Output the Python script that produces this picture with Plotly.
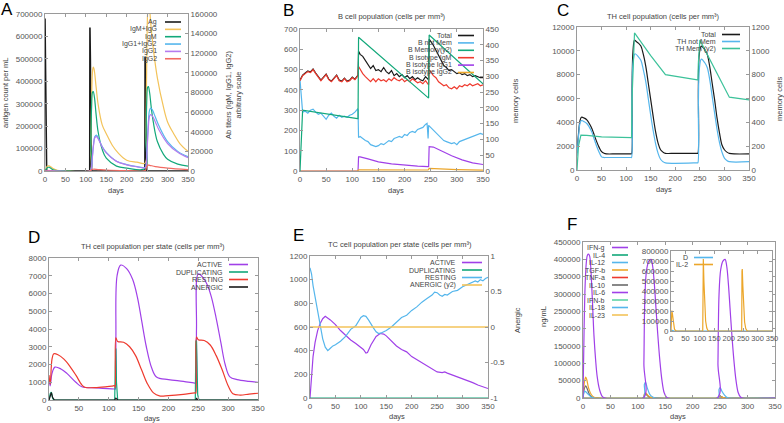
import plotly.graph_objects as go

W, H = 784, 423
DAY_TICKS = [0, 50, 100, 150, 200, 250, 300, 350]

# ---------------- Panel A ----------------
A_ag_days = [0, 0.5, 1, 2, 3, 4, 109.5, 110, 111, 112, 113, 114, 244.5, 245, 246, 247, 248, 249, 350]
A_ag = [680000, 600000, 450000, 200000, 50000, 0, 0, 640000, 500000, 250000, 80000, 0, 0, 510000, 400000, 200000, 60000, 0, 0]
A_igmg_days = [0, 3, 6, 10, 15, 20, 30, 40, 60, 110, 112, 114, 116, 118, 120, 125, 130, 140, 150, 165, 180, 200, 225, 245,
               247, 249, 251, 253, 256, 260, 265, 275, 290, 300, 315, 330, 350]
A_igmg = [0, 3000, 5000, 5200, 4000, 2500, 800, 200, 0, 0, 20000, 70000, 100000, 106000, 104000, 86000, 68000, 47000, 38000,
          26000, 18000, 11000, 9000, 8000, 40000, 110000, 160000, 175000, 165000, 145000, 125000, 95000, 65000, 50000, 38000, 28000, 20000]
A_igm_days = [0, 3, 6, 10, 15, 20, 30, 60, 110, 112, 114, 116, 118, 121, 125, 130, 140, 150, 175, 200, 245,
              247, 249, 251, 253, 256, 260, 265, 275, 290, 300, 325, 350]
A_igm = [0, 2000, 3500, 3800, 2500, 1200, 300, 0, 0, 25000, 65000, 80000, 81000, 75000, 58000, 40000, 22000, 13000, 5000, 3000, 2500,
         30000, 70000, 85000, 86000, 80000, 65000, 50000, 30000, 17000, 12000, 7000, 5000]
A_igg_days = [0, 10, 30, 110, 113, 116, 119, 122, 126, 130, 140, 150, 175, 200, 225, 245, 247, 250, 253, 256, 259, 263, 270, 280, 300, 325, 350]
A_igg12 = [0, 500, 0, 0, 2000, 15000, 28000, 35000, 36500, 34000, 25000, 19000, 10000, 6500, 4500, 3500, 5000, 25000, 50000, 62000, 64000, 62000, 55000, 45000, 30000, 20000, 14500]
A_igg1 = [0, 400, 0, 0, 1800, 14000, 27000, 34000, 35000, 33000, 24500, 18500, 9800, 6300, 4300, 3300, 4600, 22000, 45000, 56000, 57500, 56000, 50000, 41000, 28000, 19000, 13500]
A_igg2_days = [0, 110, 113, 118, 130, 150, 200, 245, 248, 252, 256, 270, 300, 350]
A_igg2 = [0, 0, 1000, 1800, 1500, 1000, 500, 400, 3000, 6000, 5800, 4500, 3000, 1500]

# ---------------- Panel B ----------------
B_days = [0, 5, 10, 15, 20, 25, 30, 35, 40, 45, 50, 55, 60, 65, 70, 75, 80, 85, 90, 95, 100, 105, 110, 111,
          112, 115, 120, 125, 130, 135, 140, 145, 150, 155, 160, 165, 170, 175, 180, 185, 190, 195, 200, 205, 210, 215, 220, 225,
          230, 235, 240, 245, 246, 247, 250, 255, 260, 265, 270, 275, 280, 285, 290, 295, 300, 305, 310, 315, 320, 325, 330, 335,
          340, 345, 350]
B_igm = [445, 470, 480, 490, 485, 500, 480, 460, 445, 460, 475, 450, 440, 455, 470, 445, 440, 455, 440, 445, 460, 450, 465, 470,
         515, 500, 480, 465, 450, 440, 455, 440, 455, 445, 450, 440, 455, 445, 460, 450, 445, 455, 440, 450, 440, 455, 445, 435,
         440, 430, 445, 430, 425, 500, 490, 470, 460, 440, 430, 420, 425, 410, 405, 415, 405, 420, 415, 425, 420, 430, 420, 425,
         430, 420, 425]
B_total = [448, 473, 483, 493, 488, 503, 483, 463, 448, 463, 478, 453, 443, 458, 473, 448, 443, 458, 443, 448, 463, 453, 468, 473,
           590, 575, 565, 545, 530, 505, 520, 495, 500, 490, 510, 490, 480, 495, 470, 480, 465, 475, 460, 470, 455, 465, 450, 460,
           450, 445, 465, 455, 450, 650, 640, 620, 595, 570, 540, 520, 510, 495, 500, 490, 480, 485, 475, 480, 470, 475, 465, 470,
           465, 460, 460]
B_nm_days = [0, 2, 4, 5, 10, 15, 20, 25, 30, 35, 40, 45, 50, 55, 60, 65, 70, 75, 80, 85, 90, 95, 100, 105, 110, 111,
             112, 115, 120, 125, 130, 135, 140, 145, 150, 155, 160, 165, 170, 175, 180, 185, 190, 195, 200, 205, 210, 215, 220, 225,
             230, 235, 240, 243, 244, 245, 246, 250, 255, 260, 265, 270, 275, 280, 285, 290, 295, 300, 305, 310, 315, 320, 325, 330,
             335, 340, 345, 350]
B_notmem = [450, 380, 300, 290, 295, 285, 300, 305, 290, 280, 285, 270, 255, 275, 285, 270, 260, 275, 265, 270, 265, 275, 280, 290, 305, 300,
            165, 170, 160, 150, 145, 130, 125, 120, 125, 135, 130, 140, 150, 145, 160, 165, 170, 165, 180, 175, 190, 195, 190, 205,
            210, 215, 230, 235, 200, 160, 225, 215, 200, 190, 175, 160, 150, 145, 140, 135, 140, 130, 145, 150, 155, 160, 165, 170,
            175, 180, 185, 180]
B_mem_days = [0, 3, 5, 110, 111, 112, 245, 246, 247, 350]
B_mem = [0, 150, 193, 166, 166, 424, 231, 231, 431, 276]
B_iso_days = [0, 110, 111, 112, 115, 130, 150, 175, 200, 225, 245, 246, 247, 255, 270, 290, 310, 330, 350]
B_igg1 = [0, 0, 0, 70, 70, 60, 45, 35, 28, 24, 22, 22, 120, 118, 100, 75, 55, 40, 32]
B_igg2_days = [0, 110, 112, 150, 245, 247, 270, 300, 350]
B_igg2 = [0, 0, 6, 6, 5, 13, 12, 7, 4]

# ---------------- Panel C ----------------
C_tot_days = [0, 3, 6, 9, 15, 20, 25, 30, 35, 40, 45, 50, 55, 60, 80, 110, 111, 112, 114, 117, 120, 125, 130, 135, 140, 145,
              150, 155, 160, 165, 170, 175, 180, 200, 245, 246, 247, 249, 253, 260, 265, 270, 275, 280, 285, 290, 295, 300, 305,
              310, 320, 350]
C_total = [1400, 3000, 4100, 4430, 4350, 4200, 3900, 3500, 2950, 2380, 1900, 1540, 1400, 1350, 1350, 1350, 1350, 7000, 10000, 10900,
           10800, 10650, 10400, 9700, 8700, 7300, 5900, 4500, 3200, 2250, 1700, 1500, 1400, 1400, 1400, 1400, 7000, 9800, 10400,
           10100, 9700, 8700, 7300, 5900, 4350, 3100, 2100, 1700, 1500, 1400, 1350, 1350]
C_nm_days = [0, 3, 6, 9, 15, 20, 25, 30, 35, 40, 45, 50, 55, 60, 110, 111, 112, 114, 118, 125, 130, 135, 140, 145, 150, 155,
             160, 165, 170, 175, 180, 245, 246, 247, 249, 253, 260, 265, 270, 275, 280, 285, 290, 295, 300, 305, 310, 350]
C_notmem = [1200, 2800, 3900, 4150, 4050, 3900, 3600, 3200, 2600, 2000, 1500, 1100, 1050, 1050, 1050, 1050, 6000, 9000, 9750,
            9500, 9200, 8400, 7400, 6000, 4600, 3300, 2200, 1400, 900, 700, 600, 600, 600, 5500, 8500, 9300, 9000, 8600, 7600, 6200,
            4800, 3400, 2300, 1500, 1000, 800, 700, 700]
C_mem_days = [0, 3, 8, 20, 50, 110, 111, 112, 117, 150, 180, 245, 246, 247, 250, 310, 350]
C_mem = [0, 200, 292, 290, 278, 272, 272, 600, 1150, 960, 800, 757, 757, 900, 1090, 611, 589]

# ---------------- Panel D ----------------
D_act_days = [0, 2, 5, 10, 20, 30, 45, 55, 80, 110, 111, 112, 114, 120, 130, 140, 148, 155, 163, 172, 180, 200, 225, 245, 246,
              247, 250, 258, 265, 272, 280, 288, 295, 303, 315, 335, 350]
D_active = [1200, 800, 1500, 1850, 1750, 1500, 1000, 750, 680, 620, 620, 3500, 7000, 7600, 7400, 6800, 5800, 4500, 3000, 1800,
            1300, 1150, 1050, 950, 950, 4000, 7100, 6900, 6500, 5800, 4600, 3200, 2000, 1300, 1150, 1050, 1000]
D_rest_days = [0, 2, 5, 8, 15, 25, 35, 45, 55, 60, 80, 105, 110, 111, 112, 115, 125, 135, 145, 155, 165, 175, 185, 200, 225,
               245, 246, 247, 250, 260, 270, 280, 290, 300, 308, 320, 335, 350]
D_resting = [1400, 900, 2300, 2600, 2550, 2300, 1900, 1400, 850, 720, 700, 780, 800, 700, 3500, 3300, 3250, 3000, 2500, 1700,
             900, 400, 230, 250, 320, 400, 380, 3550, 3400, 3350, 3100, 2500, 1700, 800, 350, 280, 330, 380]
D_dup_days = [0, 2, 4, 6, 8, 110, 111, 112, 113, 115, 245, 246, 247, 249, 251, 350]
D_dup = [0, 350, 450, 100, 0, 0, 1800, 2900, 1000, 0, 0, 3350, 3300, 300, 0, 0]
D_an_days = [0, 2, 4, 6, 9, 110, 112, 115, 246, 247, 250, 350]
D_anergic = [0, 250, 420, 150, 0, 0, 100, 0, 0, 80, 0, 0]

# ---------------- Panel E ----------------
E_act_days = [0, 3, 6, 10, 15, 20, 25, 30, 40, 50, 60, 70, 80, 90, 100, 105, 110, 113, 120, 130, 138, 145, 150, 160, 170, 180,
              190, 200, 210, 220, 230, 240, 250, 260, 265, 270, 280, 290, 300, 310, 320, 330, 340, 350]
E_active = [0, 200, 350, 470, 570, 630, 670, 690, 660, 620, 570, 530, 490, 460, 430, 410, 380, 385, 450, 520, 545, 540, 525,
            480, 440, 410, 390, 350, 325, 300, 275, 250, 220, 215, 220, 210, 195, 180, 160, 145, 130, 110, 95, 80]
E_rest_days = [0, 3, 6, 10, 15, 20, 25, 30, 35, 40, 45, 50, 60, 70, 80, 90, 95, 100, 105, 110, 115, 120, 125, 130, 135, 140,
               145, 150, 160, 170, 180, 190, 200, 210, 220, 230, 240, 245, 250, 255, 260, 265, 270, 280, 290, 300, 310, 320,
               325, 330, 335, 340, 345, 350]
E_resting = [1100, 1050, 950, 850, 720, 600, 500, 430, 400, 420, 440, 450, 480, 520, 580, 610, 650, 680, 695, 690, 660, 620,
             590, 560, 545, 550, 560, 570, 600, 640, 680, 700, 740, 770, 810, 840, 870, 895, 890, 870, 860, 875, 870, 900, 910,
             940, 960, 980, 990, 980, 1000, 990, 1010, 1020]
E_flat_days = [0, 350]
E_dup = [0, 0]
E_anergic = [0, 0]

# ---------------- Panel F ----------------
F_ifn_days = [0, 2, 4, 6, 8, 10, 12, 14, 16, 18, 20, 23, 26, 30, 35, 40, 110, 111, 113, 116, 120, 124, 127, 130, 133, 136,
              140, 144, 148, 152, 155, 245, 246, 248, 251, 255, 259, 262, 265, 268, 271, 275, 279, 283, 287, 290, 350]
F_ifng = [0, 200000, 330000, 390000, 412000, 415000, 410000, 380000, 320000, 250000, 180000, 110000, 60000, 25000, 5000, 0,
          0, 100000, 300000, 370000, 395000, 400000, 380000, 330000, 260000, 190000, 110000, 50000, 15000, 3000, 0,
          0, 100000, 300000, 370000, 395000, 400000, 380000, 330000, 260000, 190000, 110000, 50000, 15000, 3000, 0, 0]
F_il12_days = [0, 3, 5, 10, 15, 20, 110, 112, 114, 117, 122, 128, 132, 246, 248, 250, 253, 258, 263, 266, 350]
F_il12 = [0, 20000, 18000, 10000, 3000, 0, 0, 40000, 45000, 30000, 10000, 2000, 0, 0, 25000, 30000, 20000, 8000, 1000, 0, 0]
F_tgf_days = [0, 3, 5, 7, 10, 15, 20, 25, 110, 112, 114, 117, 122, 128, 246, 248, 250, 255, 260, 350]
F_tgfb = [0, 50000, 60000, 52000, 30000, 10000, 2000, 0, 0, 12000, 15000, 10000, 3000, 0, 0, 5000, 5000, 1500, 0, 0]
F_il10_days = [0, 3, 5, 8, 12, 17, 22, 110, 112, 114, 118, 124, 128, 246, 248, 250, 255, 260, 350]
F_il10 = [0, 30000, 35000, 25000, 10000, 2000, 0, 0, 10000, 12000, 6000, 1000, 0, 0, 4000, 5000, 1500, 0, 0]
F_flat_days = [0, 350]
F_zero = [0, 0]
F_il2_days = [0, 1, 3, 5, 8, 12, 16, 20, 110, 111, 112, 114, 117, 120, 124, 128, 132, 245, 246, 247, 249, 252, 255, 259, 263, 267, 350]
F_il2 = [0, 150000, 205000, 170000, 80000, 20000, 3000, 0, 0, 700000, 720000, 500000, 250000, 100000, 30000, 5000, 0,
         0, 600000, 620000, 450000, 220000, 90000, 25000, 4000, 0, 0]
F_d_days = [0, 3, 10, 350]
F_d = [0, 8000, 0, 0]

# ---------------- tick labels ----------------
A_y_ticks = [0, 100000, 200000, 300000, 400000, 500000, 600000, 700000]
A_y2_ticks = [0, 20000, 40000, 60000, 80000, 100000, 120000, 140000, 160000]
B_y_ticks = [0, 100, 200, 300, 400, 500, 600, 700]
B_y2_ticks = [0, 50, 100, 150, 200, 250, 300, 350, 400, 450]
C_y_ticks = [0, 2000, 4000, 6000, 8000, 10000, 12000]
C_y2_ticks = [0, 200, 400, 600, 800, 1000, 1200]
D_y_ticks = [0, 1000, 2000, 3000, 4000, 5000, 6000, 7000, 8000]
E_y_ticks = [0, 200, 400, 600, 800, 1000, 1200]
E_y2_ticks = [-1, -0.5, 0, 0.5, 1]
E_y2_labels = ["-1", "-0.5", "0", "0.5", "1"]
F_y_ticks = [0, 50000, 100000, 150000, 200000, 250000, 300000, 350000, 400000, 450000]
F_in_ticks = [0, 100000, 200000, 300000, 400000, 500000, 600000, 700000, 800000]

# ---------------- colours ----------------
BLACK = "#1a1a1a"
PURPLE = "#a040e8"
GREEN = "#12a87a"
BLUE = "#55b6ec"
ORANGE = "#eca62a"
RED = "#ee3a2e"
GRAY = "#6a6a6a"
LORANGE = "#f3c35a"
LGREEN = "#5fd3a6"
LPURPLE = "#b57bee"
SALMON = "#f26a62"
TEAL = "#3cc29a"

FONT = "Liberation Sans, Arial, sans-serif"
AXC = "#9a9a9a"
TXC = "#555555"

fig = go.Figure()


def tr(x, y, color, xa, ya, width=1.2, shape="linear"):
    fig.add_trace(go.Scatter(x=x, y=y, mode="lines", xaxis=xa, yaxis=ya, showlegend=False,
                             line=dict(color=color, width=width, shape=shape), hoverinfo="skip"))


# A
tr(A_ag_days, A_ag, BLACK, "x", "y", 1.6)
tr(A_igmg_days, A_igmg, LORANGE, "x", "y2", shape="spline")
tr(A_igm_days, A_igm, GREEN, "x", "y2", shape="spline")
tr(A_igg_days, A_igg12, BLUE, "x", "y2", shape="spline")
tr(A_igg_days, A_igg1, LPURPLE, "x", "y2", shape="spline")
tr(A_igg2_days, A_igg2, SALMON, "x", "y2", shape="spline")
# B
tr(B_days, B_total, BLACK, "x2", "y3")
tr(B_nm_days, B_notmem, BLUE, "x2", "y3")
tr(B_days, B_igm, RED, "x2", "y3")
tr(B_iso_days, B_igg1, PURPLE, "x2", "y3")
tr(B_igg2_days, B_igg2, ORANGE, "x2", "y3")
tr(B_mem_days, B_mem, GREEN, "x2", "y4")
# C
tr(C_tot_days, C_total, BLACK, "x3", "y5", shape="spline")
tr(C_nm_days, C_notmem, BLUE, "x3", "y5", shape="spline")
tr(C_mem_days, C_mem, TEAL, "x3", "y6")
# D
tr(D_act_days, D_active, PURPLE, "x4", "y7", shape="spline")
tr(D_dup_days, D_dup, GREEN, "x4", "y7")
tr(D_rest_days, D_resting, RED, "x4", "y7", shape="spline")
tr(D_an_days, D_anergic, BLACK, "x4", "y7")
# E
tr(E_act_days, E_active, PURPLE, "x5", "y8")
tr(E_flat_days, E_dup, GREEN, "x5", "y8")
tr(E_rest_days, E_resting, BLUE, "x5", "y8")
tr(E_flat_days, E_anergic, LORANGE, "x5", "y9", 1.4)
# F
for c in [GREEN, RED, PURPLE, LGREEN, BLUE, LORANGE]:
    tr(F_flat_days, F_zero, c, "x6", "y10")
tr(F_il10_days, F_il10, GRAY, "x6", "y10", shape="spline")
tr(F_tgf_days, F_tgfb, ORANGE, "x6", "y10", shape="spline")
tr(F_il12_days, F_il12, BLUE, "x6", "y10", shape="spline")
tr(F_ifn_days, F_ifng, PURPLE, "x6", "y10", shape="spline")
tr(F_d_days, F_d, BLUE, "x7", "y11")
tr(F_il2_days, F_il2, ORANGE, "x7", "y11")


def dom_x(a, b):
    return [a / W, b / W]


def dom_y(top, bot):
    return [1 - bot / H, 1 - top / H]


tickfont = dict(family=FONT, size=8, color=TXC)


def xax(d, anchor, mirror="ticks", fsize=8):
    return dict(domain=d, anchor=anchor, range=[0, 350], tickvals=DAY_TICKS, ticktext=[str(v) for v in DAY_TICKS],
                ticks="inside", ticklen=3, tickcolor=AXC, showline=True, linecolor=AXC, linewidth=1, mirror=mirror,
                showgrid=False, zeroline=False, tickfont=dict(family=FONT, size=fsize, color=TXC), tickangle=0,
                fixedrange=True, automargin=False)


def yax(d, anchor, rng, vals, labels=None, side="left", overlay=None, mirror=False):
    ax = dict(range=rng, tickvals=vals, ticktext=labels if labels else [str(v) for v in vals],
              ticks="inside", ticklen=3, tickcolor=AXC, showline=True, linecolor=AXC, linewidth=1, mirror=mirror,
              showgrid=False, zeroline=False, tickfont=tickfont, side=side, anchor=anchor, automargin=False,
              fixedrange=True)
    if overlay:
        ax["overlaying"] = overlay
    else:
        ax["domain"] = d
    return ax


A_x, A_y = dom_x(45, 188), dom_y(14, 171)
B_x, B_y = dom_x(300, 483), dom_y(29, 171)
C_x, C_y = dom_x(577, 749), dom_y(27, 170)
D_x, D_y = dom_x(49, 258), dom_y(258, 400)
E_x, E_y = dom_x(310, 488), dom_y(256, 398)
F_x, F_y = dom_x(583, 775), dom_y(242, 398)
I_x, I_y = dom_x(671, 772), dom_y(251, 331)

fig.update_layout(
    xaxis=xax(A_x, "y"),
    yaxis=yax(A_y, "x", [0, 700000], A_y_ticks),
    yaxis2=yax(None, "x", [0, 160000], A_y2_ticks, side="right", overlay="y"),
    xaxis2=xax(B_x, "y3"),
    yaxis3=yax(B_y, "x2", [0, 700], B_y_ticks),
    yaxis4=yax(None, "x2", [0, 450], B_y2_ticks, side="right", overlay="y3"),
    xaxis3=xax(C_x, "y5"),
    yaxis5=yax(C_y, "x3", [0, 12000], C_y_ticks),
    yaxis6=yax(None, "x3", [0, 1200], C_y2_ticks, side="right", overlay="y5"),
    xaxis4=xax(D_x, "y7"),
    yaxis7=yax(D_y, "x4", [0, 8000], D_y_ticks, mirror="ticks"),
    xaxis5=xax(E_x, "y8"),
    yaxis8=yax(E_y, "x5", [0, 1200], E_y_ticks),
    yaxis9=yax(None, "x5", [-1, 1], E_y2_ticks, E_y2_labels, side="right", overlay="y8"),
    xaxis6=xax(F_x, "y10"),
    yaxis10=yax(F_y, "x6", [0, 450000], F_y_ticks, mirror="ticks"),
    xaxis7=xax(I_x, "y11", fsize=7.5),
    yaxis11=yax(I_y, "x7", [0, 800000], F_in_ticks, mirror="ticks"),
)

ann = []
shapes = []


def text(x, y, s, size=8, color="#444", angle=0, xanchor="center"):
    ann.append(dict(x=x / W, y=1 - y / H, xref="paper", yref="paper", text=s, showarrow=False, textangle=angle,
                    xanchor=xanchor, yanchor="middle", font=dict(family=FONT, size=size, color=color)))


def legend(entries, xr, x0, x1, y0, dy):
    for i, (name, col) in enumerate(entries):
        y = y0 + i * dy
        text(xr, y, name, size=7, color="#444", xanchor="right")
        shapes.append(dict(type="line", xref="paper", yref="paper", x0=x0 / W, x1=x1 / W, y0=1 - y / H, y1=1 - y / H,
                           line=dict(color=col, width=1.6)))


# panel letters
for lab, x, y in [("A", 7, 9), ("B", 288, 10), ("C", 563, 10), ("D", 34, 237), ("E", 298, 235), ("F", 572, 224)]:
    text(x, y, lab, size=17, color="#000")

# titles
text(392, 17, "B cell population (cells per mm³)", size=7.5)
text(663, 16, "TH cell population (cells per mm³)", size=7.5)
text(153, 247, "TH cell population per state (cells per mm³)", size=7.5)
text(400, 244, "TC cell population per state (cells per mm³)", size=7.5)

# axis titles
for x, y in [(116, 190), (396, 190), (664, 189), (152, 418), (397, 416), (678, 416)]:
    text(x, y, "days", size=7.5)
text(5, 93, "antigen count per mL", size=7.5, angle=-90)
text(233, 95, "Ab titers (IgM, IgG1, IgG2)<br>arbitrary scale", size=7.5, angle=-90)
text(515, 101, "memory cells", size=7.5, angle=-90)
text(779, 99, "memory cells", size=7.5, angle=-90)
text(517, 320, "Anergic", size=7.5, angle=-90)
text(543, 317, "ng/mL", size=7.5, angle=-90)

legend([("Ag", BLACK), ("IgM+IgG", LORANGE), ("IgM", GREEN), ("IgG1+IgG2", BLUE), ("IgG1", LPURPLE), ("IgG2", SALMON)],
       159, 165, 181, 22, 7.35)
legend([("Total", BLACK), ("B not Mem", BLUE), ("B Memory(y2)", GREEN), ("B isotype IgM", RED),
        ("B isotype IgG1", PURPLE), ("B isotype IgG2", ORANGE)], 454, 458, 474, 35.5, 7.4)
legend([("Total", BLACK), ("TH not Mem", BLUE), ("TH Mem (y2)", TEAL)], 718, 722, 740, 34.5, 7.0)
legend([("ACTIVE", PURPLE), ("DUPLICATING", GREEN), ("RESTING", RED), ("ANERGIC", BLACK)], 225, 229, 248, 264.5, 7.5)
legend([("ACTIVE", PURPLE), ("DUPLICATING", GREEN), ("RESTING", BLUE), ("ANERGIC (y2)", LORANGE)], 458, 462, 482, 262.5, 7.5)
legend([("IFN-g", PURPLE), ("IL-4", GREEN), ("IL-12", BLUE), ("TGF-b", ORANGE), ("TNF-a", RED), ("IL-10", GRAY),
        ("IL-6", PURPLE), ("IFN-b", LGREEN), ("IL-18", BLUE), ("IL-23", LORANGE)], 607, 612, 628, 247.5, 7.5)
legend([("D", BLUE), ("IL-2", ORANGE)], 690, 694, 713, 257.5, 7.0)

fig.update_layout(annotations=ann, shapes=shapes, width=W, height=H, margin=dict(l=0, r=0, t=0, b=0),
                  paper_bgcolor="white", plot_bgcolor="rgba(0,0,0,0)", showlegend=False)

fig.write_html("out.html", config={"displayModeBar": False, "staticPlot": True},
               post_script="document.body.style.margin='0';document.body.style.padding='0';")
